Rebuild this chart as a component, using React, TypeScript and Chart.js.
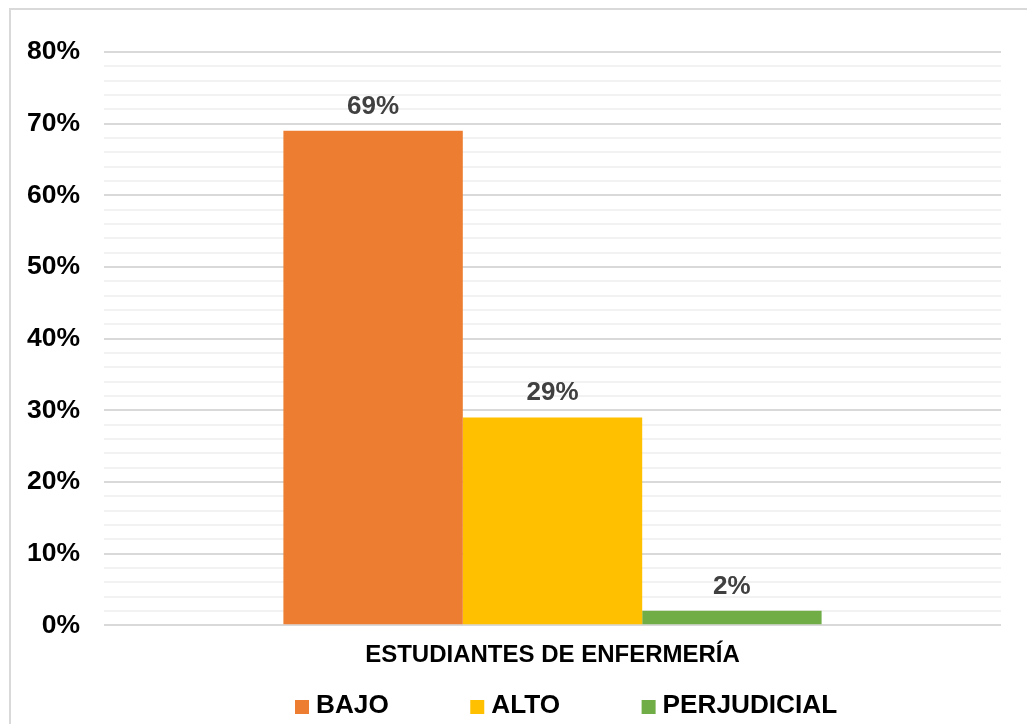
import React, { useEffect, useRef } from "react";
import { Chart, registerables } from "chart.js";

Chart.register(...registerables);

const categories = ["ESTUDIANTES DE ENFERMERÍA"];
const seriesNames = ["BAJO", "ALTO", "PERJUDICIAL"];
const seriesValues = [[69], [29], [2]];
const seriesColors = ["#ED7D31", "#FFC000", "#70AD47"];
const yMin = 0;
const yMax = 80;
const yStep = 2;
const yLabelStep = 10;

const FONT = '"Liberation Sans", Arial, sans-serif';

const dataLabelPlugin = {
  id: "dataLabels",
  afterDatasetsDraw(chart: any) {
    const ctx = chart.ctx;
    ctx.save();
    ctx.font = `bold 26px ${FONT}`;
    ctx.fillStyle = "#404040";
    ctx.textAlign = "center";
    ctx.textBaseline = "alphabetic";
    chart.data.datasets.forEach((ds: any, i: number) => {
      const meta = chart.getDatasetMeta(i);
      meta.data.forEach((el: any, j: number) => {
        ctx.fillText(`${ds.data[j]}%`, el.x, el.y - 17);
      });
    });
    ctx.restore();
  },
};

const legendPlugin = {
  id: "customLegend",
  afterDraw(chart: any) {
    const ctx = chart.ctx;
    ctx.save();
    ctx.font = `bold 26.2px ${FONT}`;
    const box = 14;
    const gap = 7;
    const spacing = 81.5;
    const items = chart.data.datasets.map((ds: any) => ({
      text: ds.label,
      color: ds.backgroundColor,
      w: box + gap + ctx.measureText(ds.label).width,
    }));
    const cy = 696;
    let x = 284;
    ctx.textBaseline = "middle";
    ctx.textAlign = "left";
    items.forEach((it: any) => {
      ctx.fillStyle = it.color;
      ctx.fillRect(x, cy - box / 2 + 1, box, box);
      ctx.fillStyle = "#000000";
      ctx.fillText(it.text, x + box + gap, cy);
      x += it.w + spacing;
    });
    ctx.restore();
  },
};

export default function App() {
  const canvasRef = useRef<HTMLCanvasElement | null>(null);

  useEffect(() => {
    if (!canvasRef.current) return;
    const chart = new Chart(canvasRef.current, {
      type: "bar",
      data: {
        labels: categories,
        datasets: seriesNames.map((name, i) => ({
          label: name,
          data: seriesValues[i],
          backgroundColor: seriesColors[i],
          borderWidth: 0,
          categoryPercentage: 0.6,
          barPercentage: 1,
        })),
      },
      options: {
        responsive: false,
        animation: false,
        devicePixelRatio: 1,
        layout: { padding: { top: 42, bottom: 38, left: 16, right: 26 } },
        plugins: {
          legend: { display: false },
          tooltip: { enabled: false },
        },
        scales: {
          x: {
            grid: { display: false, drawTicks: false },
            border: { display: false },
            afterFit: (s: any) => {
              s.paddingLeft = 0;
              s.paddingRight = 0;
            },
            ticks: {
              padding: 16,
              maxRotation: 0,
              color: "#000000",
              font: { family: FONT, size: 24, weight: "bold" },
            },
          },
          y: {
            min: yMin,
            max: yMax,
            border: { display: false },
            afterFit: (s: any) => {
              s.width = 77;
            },
            grid: {
              drawTicks: false,
              lineWidth: 2,
              color: (c: any) =>
                c.tick && c.tick.value % yLabelStep === 0 ? "#d9d9d9" : "#f2f2f2",
            },
            ticks: {
              stepSize: yStep,
              autoSkip: false,
              padding: 24,
              color: "#000000",
              font: { family: FONT, size: 26.5, weight: "bold" },
              callback: (v: any) => (Number(v) % yLabelStep === 0 ? `${v}%` : ""),
            },
          },
        },
      },
      plugins: [dataLabelPlugin, legendPlugin],
    });
    return () => chart.destroy();
  }, []);

  return (
    <div
      style={{
        position: "absolute",
        left: 9,
        top: 8,
        width: 1016,
        height: 714,
        borderLeft: "2px solid #d9d9d9",
        borderTop: "2px solid #d9d9d9",
        background: "#ffffff",
      }}
    >
      <canvas ref={canvasRef} width={1016} height={714} style={{ display: "block" }} />
    </div>
  );
}
